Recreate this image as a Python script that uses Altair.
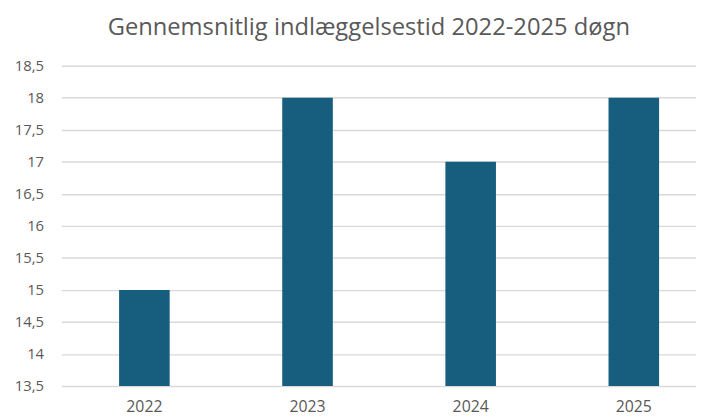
import altair as alt
import pandas as pd

years = ["2022", "2023", "2024", "2025"]
values = [15, 18, 17, 18]

df = pd.DataFrame({"year": years, "value": values})

FONT = "Open Sans"
GREY = "#595959"

chart = alt.Chart(df).mark_bar(color="#165D7E", clip=True).encode(
    x=alt.X("year:N", sort=years, title=None,
            scale=alt.Scale(paddingInner=0.69, paddingOuter=0.29, align=0.61),
            axis=alt.Axis(labelAngle=0, labelFontSize=16, labelColor=GREY, labelFont=FONT,
                          domain=False, ticks=False, labelPadding=13)),
    y=alt.Y("value:Q", title=None,
            scale=alt.Scale(domain=[13.5, 18.5], zero=False, nice=False),
            axis=alt.Axis(values=[13.5, 14, 14.5, 15, 15.5, 16, 16.5, 17, 17.5, 18, 18.5],
                          labelExpr="replace(format(datum.value, '~g'), '.', ',')",
                          labelFontSize=15, labelColor=GREY, labelFont=FONT,
                          domain=False, ticks=False, labelPadding=18,
                          gridColor="#D9D9D9", gridWidth=1.5)),
    y2=alt.datum(13.5),
).properties(
    width=642, height=324,
    title=alt.TitleParams("Gennemsnitlig indlæggelsestid 2022-2025 døgn",
                          fontSize=24, font=FONT, fontWeight="normal", color=GREY,
                          anchor="middle", dx=-10, offset=19),
    autosize=alt.AutoSizeParams(type="none"),
    padding={"left": 54, "top": 56, "right": 0, "bottom": 34},
).configure_view(stroke=None)

chart.save("out.html", embed_options={"renderer": "svg", "actions": False})
